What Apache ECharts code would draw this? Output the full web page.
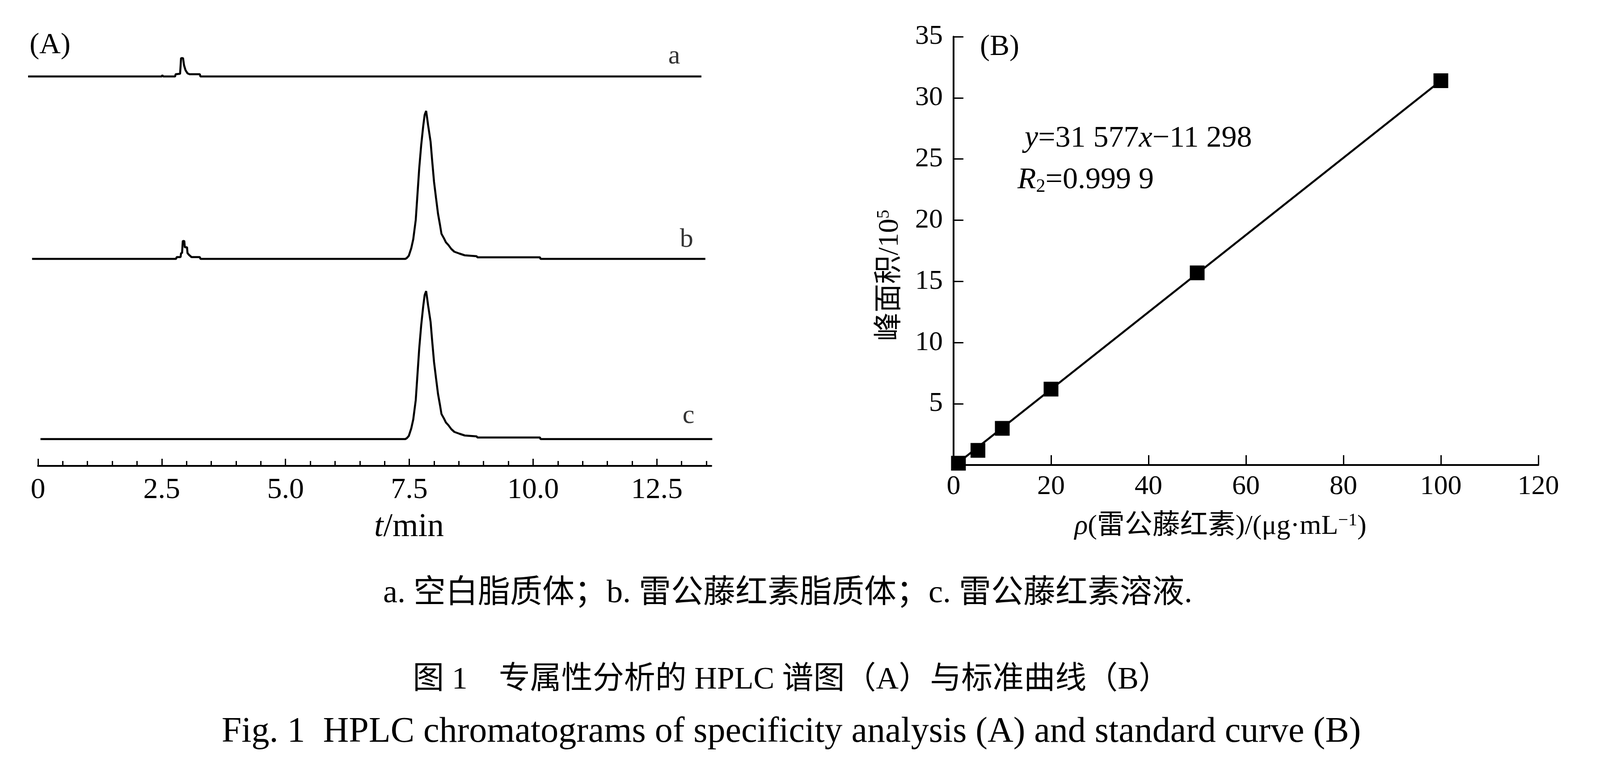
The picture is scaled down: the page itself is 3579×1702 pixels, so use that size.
<!DOCTYPE html>
<html>
<head>
<meta charset="utf-8">
<title>HPLC chromatograms and standard curve</title>
<script src="https://cdn.jsdelivr.net/npm/echarts@6/dist/echarts.min.js"></script>
<style>
    html, body {
        margin: 0;
        padding: 0;
        background: #fff;
    }

    #chart {
        width: 3579px;
        height: 1702px;
    }
</style>
</head>
<body>
<div id="chart"></div>
<script type="text/javascript">
    // ---- panel A: chromatograms, t / min vs signal (arbitrary units) ----
    var traceNames = ['a', 'b', 'c'];
    var traceOffset = [871, 463, 60];       // baseline of each stacked trace
    var traceStart = [-0.2, -0.12, 0.05];
    var traceEnd = [13.4, 13.48, 13.62];
    // blank liposome: solvent peak near 2.9 min
    var peakBlank = [[2.50, 0], [2.51, 3], [2.53, 0], [2.77, 0], [2.78, 5], [2.87, 6], [2.89, 41], [2.93, 41],
        [2.95, 25], [2.98, 14], [3.02, 7], [3.06, 5], [3.27, 5], [3.28, 0]];
    // celastrol liposome: same small peak
    var peakSmallB = [[2.79, 0], [2.80, 4], [2.88, 4], [2.89, 13], [2.91, 13], [2.925, 40], [2.955, 40],
        [2.965, 26], [3.01, 26], [3.02, 13], [3.05, 9], [3.10, 4], [3.27, 4], [3.28, 0]];
    // celastrol main peak (b and c)
    var peakMain = [[7.42, 0], [7.45, 2], [7.49, 7], [7.54, 24], [7.58, 44], [7.63, 87], [7.66, 136],
        [7.70, 202], [7.74, 254], [7.78, 296], [7.81, 322], [7.84, 331], [7.88, 299], [7.93, 262],
        [7.96, 222], [8.00, 172], [8.04, 136], [8.08, 101], [8.12, 76], [8.15, 56], [8.20, 46],
        [8.24, 37], [8.29, 31], [8.35, 22], [8.41, 16], [8.51, 12], [8.62, 8], [8.86, 6], [8.875, 3.5],
        [10.14, 3.5], [10.15, 0]];
    var traceLabelPos = [[12.85, 45], [13.1, 43], [13.14, 52]];
    var majorTicksA = [0, 2.5, 5, 7.5, 10, 12.5];
    var minorTicksA = [0.5, 1, 1.5, 2, 3, 3.5, 4, 4.5, 5.5, 6, 6.5, 7, 8, 8.5, 9, 9.5, 10.5, 11, 11.5, 12, 13, 13.5];

    // ---- panel B: standard curve ----
    var conc = [1, 5, 10, 20, 50, 100];               // μg/mL
    var peakArea = [0.15, 1.2, 3.0, 6.2, 15.7, 31.4]; // /10^5
    var fitLine = [[1, 0.2], [100, 31.4]];

    var serif = '"Liberation Serif", "Noto Sans CJK SC", serif';

    // A: the visible time axis spans 0–13.6 min; the traces start a little before 0,
    // so they sit on a second, hidden axis with the same px/min
    var pxPerMin = 110.74;
    var axisLeftA = 85;
    var traceMin = -0.22, traceMax = 13.7;

    function buildTrace(i, peaks) {
        var pts = [[traceStart[i], 0]];
        peaks.forEach(function (p) { pts = pts.concat(p); });
        pts.push([traceEnd[i], 0]);
        return pts.map(function (p) { return [p[0], p[1] + traceOffset[i]]; });
    }

    var traces = [
        buildTrace(0, [peakBlank]),
        buildTrace(1, [peakSmallB, peakMain]),
        buildTrace(2, [peakMain])
    ];

    var traceSeries = traces.map(function (d, i) {
        return {
            name: traceNames[i],
            type: 'line',
            xAxisIndex: 3,
            yAxisIndex: 2,
            data: d,
            symbol: 'none',
            clip: false,
            lineStyle: {color: '#000', width: 4.5},
            z: 3
        };
    });

    var labelData = traceLabelPos.map(function (p, i) {
        return {value: [p[0], p[1] + traceOffset[i]], name: traceNames[i]};
    });

    var bPoints = conc.map(function (c, i) { return [c, peakArea[i]]; });

    var dom = document.getElementById('chart');
    var myChart = echarts.init(dom, null, {renderer: 'canvas'});
    var option = {
        animation: false,
        backgroundColor: '#fff',
        textStyle: {fontFamily: serif, color: '#000'},
        grid: [
            {left: axisLeftA, top: 100, width: 13.6 * pxPerMin, height: 942},
            {left: 2133, top: 82, width: 1308, height: 958},
            {left: axisLeftA + traceMin * pxPerMin, top: 100, width: (traceMax - traceMin) * pxPerMin, height: 942}
        ],
        xAxis: [
            {
                type: 'value', gridIndex: 0, min: 0, max: 13.6,
                axisLine: {show: true, lineStyle: {color: '#000', width: 4}},
                axisTick: {show: true, inside: true, length: 16, customValues: majorTicksA,
                    lineStyle: {color: '#000', width: 3}},
                axisLabel: {
                    customValues: majorTicksA, margin: 22, fontSize: 66, color: '#000', fontFamily: serif,
                    formatter: function (v) { return v === 0 ? '0' : v.toFixed(1); }
                },
                splitLine: {show: false}
            },
            {
                type: 'value', gridIndex: 0, min: 0, max: 13.6, position: 'bottom',
                axisLine: {show: false},
                axisTick: {show: true, inside: true, length: 11, customValues: minorTicksA,
                    lineStyle: {color: '#000', width: 3}},
                axisLabel: {show: false},
                splitLine: {show: false}
            },
            {
                type: 'value', gridIndex: 1, min: 0, max: 120, interval: 20,
                axisLine: {show: true, onZero: true, lineStyle: {color: '#000', width: 4}},
                axisTick: {show: true, inside: true, length: 22, lineStyle: {color: '#000', width: 3}},
                axisLabel: {margin: 18, fontSize: 62, color: '#000', fontFamily: serif},
                splitLine: {show: false}
            },
            {type: 'value', gridIndex: 2, min: traceMin, max: traceMax, show: false}
        ],
        yAxis: [
            {type: 'value', gridIndex: 0, min: 0, max: 942, show: false},
            {
                type: 'value', gridIndex: 1, min: 0, max: 35, interval: 5,
                axisLine: {show: true, lineStyle: {color: '#000', width: 4}},
                axisTick: {show: true, inside: true, length: 22, lineStyle: {color: '#000', width: 3}},
                axisLabel: {
                    margin: 24, fontSize: 62, color: '#000', fontFamily: serif,
                    formatter: function (v) { return v === 0 ? '' : String(v); }
                },
                splitLine: {show: false}
            },
            {type: 'value', gridIndex: 2, min: 0, max: 942, show: false}
        ],
        series: traceSeries.concat([
            {
                name: 'trace labels',
                type: 'scatter',
                xAxisIndex: 3,
                yAxisIndex: 2,
                data: labelData,
                symbolSize: 0,
                clip: false,
                label: {
                    show: true, position: 'inside', fontSize: 60, color: '#000', fontFamily: serif,
                    formatter: function (p) { return p.name; }
                }
            },
            {
                name: 'fit',
                type: 'line',
                xAxisIndex: 2,
                yAxisIndex: 1,
                data: fitLine,
                symbol: 'none',
                lineStyle: {color: '#000', width: 4.5},
                z: 2
            },
            {
                name: '峰面积',
                type: 'scatter',
                xAxisIndex: 2,
                yAxisIndex: 1,
                data: bPoints,
                symbol: 'rect',
                symbolSize: 33,
                clip: false,
                itemStyle: {color: '#000', opacity: 1},
                z: 4
            }
        ]),
        graphic: [
            {type: 'text', style: {x: 66, y: 102, text: '(A)', font: '66px ' + serif,
                    fill: '#000', align: 'left', verticalAlign: 'middle'}},
            {type: 'text', style: {x: 915, y: 1180, text: '{i|t}/min', font: '74px ' + serif,
                    fill: '#000', align: 'center', verticalAlign: 'middle',
                    rich: {i: {fontStyle: 'italic', fontSize: 74, fontFamily: serif}}}},
            {type: 'text', style: {x: 2192, y: 106, text: '(B)', font: '66px ' + serif,
                    fill: '#000', align: 'left', verticalAlign: 'middle'}},
            {type: 'text', style: {x: 2292, y: 310, text: '{i|y}=31 577{i|x}\u221211 298', font: '68px ' + serif,
                    fill: '#000', align: 'left', verticalAlign: 'middle',
                    rich: {i: {fontStyle: 'italic', fontSize: 68, fontFamily: serif}}}},
            {type: 'text', style: {x: 2276, y: 403, text: '{i|R}{sub|2}=0.999 9', font: '68px ' + serif,
                    fill: '#000', align: 'left', verticalAlign: 'middle',
                    rich: {
                        i: {fontStyle: 'italic', fontSize: 68, fontFamily: serif},
                        sub: {fontSize: 42, fontFamily: serif, verticalAlign: 'bottom', padding: [30, 0, 0, 0]}
                    }}},
            {type: 'text', x: 1991, y: 616, rotation: Math.PI / 2,
                style: {x: 0, y: 0, text: '峰面积/10{sup|5}', font: '64px ' + serif,
                    fill: '#000', align: 'center', verticalAlign: 'middle',
                    rich: {sup: {fontSize: 40, fontFamily: serif, verticalAlign: 'top', padding: [0, 0, 28, 0]}}}},
            {type: 'text', style: {x: 2730, y: 1178, text: '{i|ρ}(雷公藤红素)/(μg·mL{sup|\u22121})',
                    font: '62px ' + serif, fill: '#000', align: 'center', verticalAlign: 'middle',
                    rich: {
                        i: {fontStyle: 'italic', fontSize: 62, fontFamily: serif},
                        sup: {fontSize: 40, fontFamily: serif, verticalAlign: 'top', padding: [0, 0, 28, 0]}
                    }}},
            {type: 'text', style: {x: 1762, y: 1328, text: 'a. 空白脂质体；b. 雷公藤红素脂质体；c. 雷公藤红素溶液.',
                    font: '72px ' + serif, fill: '#000', align: 'center', verticalAlign: 'middle'}},
            {type: 'text', style: {x: 1770, y: 1522, text: '图 1　专属性分析的 HPLC 谱图（A）与标准曲线（B）',
                    font: '70px ' + serif, fill: '#000', align: 'center', verticalAlign: 'middle'}},
            {type: 'text', style: {x: 1770, y: 1638,
                    text: 'Fig. 1  HPLC chromatograms of specificity analysis (A) and standard curve (B)',
                    font: '80px ' + serif, fill: '#000', align: 'center', verticalAlign: 'middle'}}
        ]
    };
    if (option && typeof option === 'object') {
        myChart.setOption(option, true);
    }
</script>
</body>
</html>
